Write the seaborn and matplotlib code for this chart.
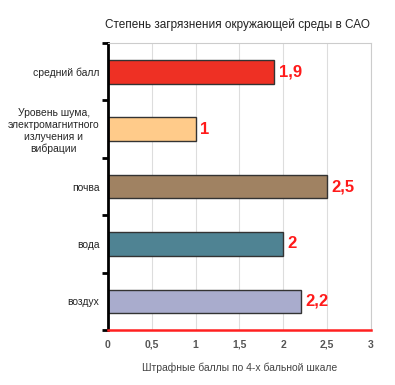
import matplotlib
matplotlib.use("Agg")
import matplotlib.pyplot as plt
import seaborn as sns
import pandas as pd
from matplotlib.ticker import FixedLocator, FuncFormatter

# данные
categories = ["средний балл",
              "Уровень шума,\nэлектромагнитного\nизлучения и\nвибрации",
              "почва", "вода", "воздух"]
values = [1.9, 1.0, 2.5, 2.0, 2.2]
colors = ["#EE3024", "#FFCB8A", "#A08262", "#4F8393", "#A9ACCD"]

df = pd.DataFrame({"cat": categories, "val": values})

sns.set_style("white")
plt.rcParams["font.family"] = ["Liberation Sans", "DejaVu Sans"]

fig = plt.figure(figsize=(3.95, 3.85), dpi=100)
ax = fig.add_axes([0.273, 0.143, 0.666, 0.745])

sns.barplot(data=df, x="val", y="cat", hue="cat", palette=colors, legend=False,
            width=0.41, saturation=1, edgecolor="#333333", linewidth=1.0, ax=ax, orient="h")

ax.set_xlim(0, 3)
ax.set_ylim(4.5, -0.5)
ax.set_xticks([0, 0.5, 1, 1.5, 2, 2.5, 3])
ax.xaxis.set_major_formatter(FuncFormatter(lambda v, p: f"{v:g}".replace(".", ",")))
ax.tick_params(axis="x", length=0, labelsize=7.5, labelcolor="#555555", pad=7)
for lbl in ax.get_xticklabels():
    lbl.set_fontweight("bold")
ax.grid(axis="x", color="#dddddd", linewidth=0.8)
ax.set_axisbelow(True)

# деления на оси Y между категориями
ax.yaxis.set_minor_locator(FixedLocator([-0.5, 0.5, 1.5, 2.5, 3.5, 4.5]))
ax.tick_params(axis="y", which="major", length=0, labelsize=7.5, pad=6)
ax.tick_params(axis="y", which="minor", length=4, width=2, color="black", left=True)
for lbl in ax.get_yticklabels():
    lbl.set_multialignment("center")

ax.spines["left"].set_color("black")
ax.spines["left"].set_linewidth(2)
ax.spines["bottom"].set_color("#ff2020")
ax.spines["bottom"].set_linewidth(1.8)
ax.spines["top"].set_color("#cccccc")
ax.spines["right"].set_color("#cccccc")

for i, v in enumerate(values):
    ax.text(v + 0.05, i, f"{v:g}".replace(".", ","), color="#ff1a1a",
            fontsize=12, fontweight="bold", va="center", ha="left")

ax.set_ylabel("")
ax.set_xlabel("Штрафные баллы по 4-х бальной шкале", fontsize=7.5, color="#444444", labelpad=9)
fig.text(0.6, 0.935, "Степень загрязнения окружающей среды в САО", fontsize=8.5,
         ha="center", va="center", color="#222222")

fig.savefig("out.png", dpi=100)
